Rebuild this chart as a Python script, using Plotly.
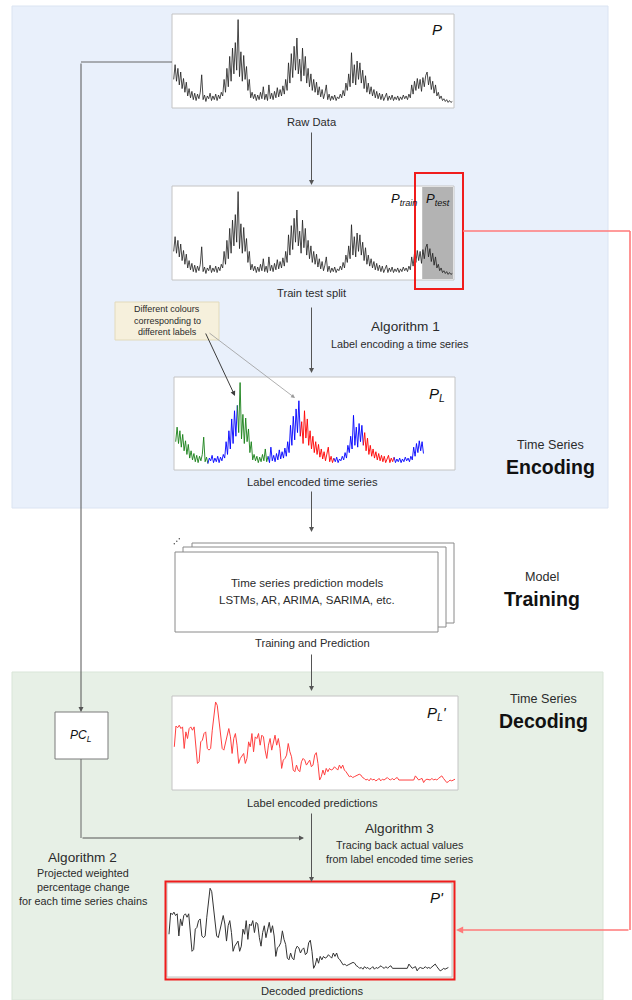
import plotly.graph_objects as go

W, H = 632, 1000

# Raw time series P (one value per time step)
raw_values = [
    30, 46, 28, 42, 24, 38, 20, 31, 16, 27, 12, 20, 10,
    17, 8, 15, 7, 14, 9, 16, 35, 8, 13, 6, 12, 9, 15, 7, 12, 8, 14, 7, 13, 9, 16,
    12, 30, 16, 42, 22, 55, 28, 64, 36, 70, 40, 95, 33, 60, 28, 56, 30,
    44, 18, 30, 10, 16,
    9, 14, 7, 13, 8, 16, 9, 22, 8, 14, 7, 24, 9, 15, 8, 17, 10, 21, 11, 19, 12, 23, 14,
    30, 18, 48, 26, 58, 32, 66, 40, 75, 36, 52, 28, 64, 34, 55, 26, 42,
    22, 36, 18, 30, 16, 27, 13, 22, 11, 19, 9, 15, 24, 8, 14, 7, 12, 8, 13, 7, 11, 9, 14, 10,
    18, 12, 26, 18, 36, 22, 59, 26, 46, 24, 50, 30, 48, 26, 40, 20, 34, 16, 26,
    14, 22, 12, 19, 10, 17, 9, 15, 8, 14, 7, 12, 15, 7, 12, 8, 13, 7, 11, 8, 12, 7, 11, 8, 13, 9, 12, 8,
    14, 10, 24, 14, 28, 18, 31, 20, 30, 17, 32, 22, 34, 38, 24, 33, 19, 28, 15, 24, 12,
    16, 9, 12, 7, 9, 6, 8, 5, 7, 5, 6,
]

# First index of the test part
split_index = 178

# Label encoding of the training part: segment boundaries and label colours
label_breaks = [0, 23, 44, 66, 89, 113, 134, 156, 177]
label_colours = ["#178017", "#0000ff", "#178017", "#0000ff",
                 "#ff0000", "#0000ff", "#ff0000", "#0000ff"]

# Predicted (label encoded) series P_L' and its decoded counterpart P'
pred_values = [
    46, 71, 69, 72, 68, 70, 44, 64, 56, 68,
    70, 66, 70, 50, 26, 28, 52, 54, 62, 64,
    44, 42, 44, 66, 86, 100, 96, 78, 54, 44,
    42, 52, 60, 68, 58, 38, 56, 62, 48, 26,
    32, 36, 38, 26, 32, 52, 46, 62, 40, 58,
    56, 62, 48, 60, 58, 42, 32, 48, 56, 42,
    52, 60, 48, 56, 44, 20, 30, 32, 36, 50,
    40, 34, 18, 16, 24, 18, 16, 28, 32, 30,
    24, 28, 30, 22, 24, 36, 39, 26, 6, 10,
    18, 12, 20, 16, 20, 18, 19, 22, 20, 18,
    24, 20, 24, 18, 16, 12, 10, 11, 9, 10,
    11, 12, 13, 12, 9, 8, 6, 7, 5, 8,
    6, 7, 5, 6, 8, 5, 7, 6, 8, 9,
    7, 6, 8, 6, 8, 9, 6, 6, 6, 6,
    6, 6, 6, 6, 6, 6, 11, 9, 6, 7,
    8, 3, 6, 7, 6, 6, 8, 6, 7, 6,
    8, 10, 11, 8, 6, 3, 4, 6, 5, 6,
    7,
]
decoded_values = pred_values

FONT = "Liberation Sans, Arial, Helvetica, sans-serif"
TXT = "#2b2b2b"


def X(px):
    return px / W


def Y(py):
    return 1 - py / H


fig = go.Figure()

raw_idx = list(range(len(raw_values)))
pred_idx = list(range(len(pred_values)))
RAW_X = [-0.5, len(raw_values) - 0.5]
RAW_Y = [0, 100]

# Panel 1: raw data
fig.add_trace(go.Scatter(x=raw_idx, y=raw_values, mode="lines",
                         line=dict(color="#1e1e1e", width=0.8),
                         xaxis="x2", yaxis="y2", hoverinfo="skip"))

# Panel 2: train/test split with shaded test part
fig.add_trace(go.Scatter(
    x=[split_index - 0.5, RAW_X[1], RAW_X[1], split_index - 0.5],
    y=[RAW_Y[0], RAW_Y[0], RAW_Y[1], RAW_Y[1]],
    fill="toself", fillcolor="#b3b3b3", mode="lines", line=dict(width=0),
    xaxis="x3", yaxis="y3", hoverinfo="skip"))
fig.add_trace(go.Scatter(x=raw_idx, y=raw_values, mode="lines",
                         line=dict(color="#1e1e1e", width=0.8),
                         xaxis="x3", yaxis="y3", hoverinfo="skip"))

# Panel 3: label encoded training series, one trace per label segment
for k, col in enumerate(label_colours):
    a, b = label_breaks[k], label_breaks[k + 1]
    fig.add_trace(go.Scatter(x=raw_idx[a:b + 1], y=raw_values[a:b + 1], mode="lines",
                             line=dict(color=col, width=0.9),
                             xaxis="x4", yaxis="y4", hoverinfo="skip"))

# Panel 4: label encoded predictions
fig.add_trace(go.Scatter(x=pred_idx, y=pred_values, mode="lines",
                         line=dict(color="#ff4040", width=1.0),
                         xaxis="x5", yaxis="y5", hoverinfo="skip"))

# Panel 5: decoded predictions
fig.add_trace(go.Scatter(x=pred_idx, y=decoded_values, mode="lines",
                         line=dict(color="#333333", width=1.0),
                         xaxis="x6", yaxis="y6", hoverinfo="skip"))


def ax_pair(l, r, t, b, xr, yr):
    xa = dict(domain=[X(l), X(r)], range=xr, visible=False, fixedrange=True)
    ya = dict(domain=[Y(b), Y(t)], range=yr, visible=False, fixedrange=True)
    return xa, ya


n_pred = len(pred_values) - 1
layout_axes = {}
for name, (l, r, t, b, xr, yr) in {
    "2": (173, 453, 15, 107, RAW_X, RAW_Y),
    "3": (173, 453, 187, 279, RAW_X, RAW_Y),
    "4": (175, 454, 378, 469, [-0.5, len(raw_values) - 1.2], RAW_Y),
    "5": (173, 457, 697, 789, [-0.79, n_pred + 1.2], [-4.8, 106]),
    "6": (168, 451, 884, 976, [-0.6, n_pred + 1.6], [-3, 105]),
}.items():
    xa, ya = ax_pair(l, r, t, b, xr, yr)
    xa["anchor"] = "y" + name
    ya["anchor"] = "x" + name
    layout_axes["xaxis" + name] = xa
    layout_axes["yaxis" + name] = ya

shapes = []


def rect(x0, y0, x1, y1, fill="white", line="#c4c4c4", width=1.0, layer="below"):
    shapes.append(dict(type="rect", xref="paper", yref="paper",
                       x0=X(x0), x1=X(x1), y0=Y(y0), y1=Y(y1),
                       fillcolor=fill, line=dict(color=line, width=width), layer=layer))


def seg(x0, y0, x1, y1, color="#666666", width=1.0):
    shapes.append(dict(type="line", xref="paper", yref="paper",
                       x0=X(x0), x1=X(x1), y0=Y(y0), y1=Y(y1),
                       line=dict(color=color, width=width), layer="above"))


# Stage backgrounds
rect(12, 6, 608, 508, fill="#e9f0fb", line="#dbe4f2")
rect(12, 672, 603, 1000, fill="#e7f0e6", line="#d9e5d8")

# Chart frames
rect(172, 14, 454, 108)
rect(172, 186, 454, 280)
rect(174, 377, 455, 470)
rect(172, 696, 458, 790)
rect(167, 883, 452, 977)

# Stacked model boxes
rect(192, 543, 454, 623, line="#8a8a8a")
rect(183, 547, 446, 627, line="#8a8a8a")
rect(175, 552, 438, 632, line="#8a8a8a")
for dx, dy in [(0, 0), (2.5, -2.5), (5, -5)]:
    shapes.append(dict(type="circle", xref="paper", yref="paper",
                       x0=X(173.6 + dx), x1=X(175.0 + dx),
                       y0=Y(544.5 + dy), y1=Y(543.1 + dy),
                       fillcolor="#444", line=dict(width=0), layer="above"))

# PC_L box
rect(55, 712, 108, 759, line="#7a7a7a")

# Callout
rect(115, 302, 219, 340, fill="#f6f0dc", line="#e2dabb")

# Red highlight boxes
rect(415, 173, 463, 289, fill="rgba(0,0,0,0)", line="#f01c1c", width=2, layer="above")
rect(165.5, 881.5, 454.5, 979.5, fill="rgba(0,0,0,0)", line="#f01c1c", width=2, layer="above")

# Connectors
seg(172, 62, 81, 62)
seg(81, 759, 81, 838)
RED = "#ff7a7a"
seg(463, 231, 630, 231, color=RED, width=1.6)
seg(630, 231, 630, 930, color=RED, width=1.6)

annotations = []


def arrow(x0, y0, x1, y1, color="#555555", width=1.0, size=1.0):
    annotations.append(dict(xref="paper", yref="paper", x=X(x1), y=Y(y1),
                            ax=x0 - x1, ay=y0 - y1, axref="pixel", ayref="pixel",
                            text="", showarrow=True, arrowhead=2, arrowsize=size,
                            arrowwidth=width, arrowcolor=color, standoff=0,
                            startstandoff=0))


def text(s, x, y, size=10.8, color=TXT):
    annotations.append(dict(xref="paper", yref="paper", x=X(x), y=Y(y),
                            xanchor="center", yanchor="middle", text=s,
                            showarrow=False, font=dict(family=FONT, size=size, color=color)))


arrow(311.5, 131, 311.5, 185)
arrow(311.5, 306, 311.5, 373)
arrow(311.5, 490, 311.5, 532)
arrow(311.5, 653, 311.5, 691)
arrow(311.5, 812, 311.5, 882)
arrow(81, 62, 81, 712)
arrow(81, 838, 304, 838)
arrow(630, 930, 456, 930, color=RED, width=1.6, size=0.9)
arrow(205, 332, 235, 396, color="#3c3c3c", width=1.0)
arrow(208, 332, 295, 398, color="#9a9a9a", width=0.8)

text("Raw Data", 312, 122, 11.2)
text("Train test split", 312, 293, 11.2)
text("Algorithm 1", 405, 327, 13.6)
text("Label encoding a time series", 400, 343.5, 10.8)
text("Different colours", 167, 309, 9)
text("corresponding to", 167, 320.5, 9)
text("different labels", 167, 332, 9)
text("Label encoded time series", 312, 482, 11.2)
text("Time Series", 550, 445, 12.6)
text("<b>Encoding</b>", 550, 467, 19.5, "#111111")
text("Time series prediction models", 307, 583, 11.5)
text("LSTMs, AR, ARIMA, SARIMA, etc.", 307, 600, 11.5)
text("Training and Prediction", 312, 643, 11.2)
text("Model", 542, 577, 12.6)
text("<b>Training</b>", 542, 599, 19.5, "#111111")
text("Time Series", 543, 699, 12.6)
text("<b>Decoding</b>", 543, 721, 19.5, "#111111")
text("Label encoded predictions", 312, 803, 11.2)
text("Algorithm 3", 399, 828, 13.6)
text("Tracing back actual values", 400, 845, 10.8)
text("from label encoded time series", 400, 859, 10.8)
text("Algorithm 2", 82, 857, 13.6)
text("Projected weighted", 83, 873, 10.8)
text("percentage change", 83, 887, 10.8)
text("for each time series chains", 83, 901, 10.8)
text("Decoded predictions", 312, 991, 11.2)

text("<i>P</i>", 437, 29, 15, "#111")
text("<i>P<sub>train</sub></i>", 404, 200, 13, "#111")
text("<i>P<sub>test</sub></i>", 438, 200, 13, "#111")
text("<i>P<sub>L</sub></i>", 437, 394, 15, "#111")
text("<i>P<sub>L</sub>'</i>", 437, 713, 15, "#111")
text("<i>PC<sub>L</sub></i>", 81, 736, 12, "#111")
text("<i>P'</i>", 437, 897, 15, "#111")

fig.update_layout(
    width=W, height=H,
    margin=dict(l=0, r=0, t=0, b=0),
    paper_bgcolor="white", plot_bgcolor="rgba(0,0,0,0)",
    showlegend=False,
    xaxis=dict(visible=False), yaxis=dict(visible=False),
    shapes=shapes, annotations=annotations,
    **layout_axes,
)

fig.write_html("out.html", config={"displayModeBar": False})
